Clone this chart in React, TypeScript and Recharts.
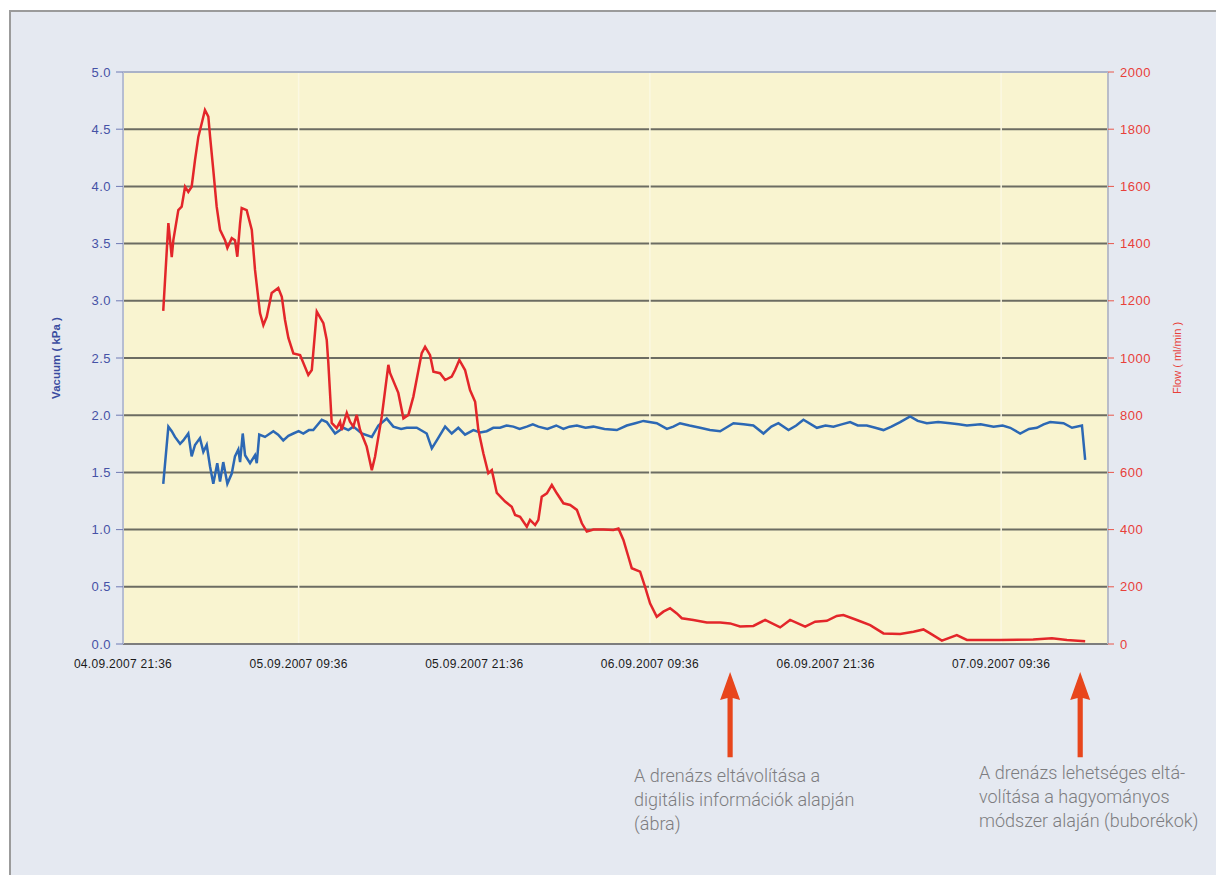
import { CartesianGrid, Line, LineChart, ReferenceLine, XAxis, YAxis } from "recharts";

// hours since 04.09.2007 21:36
const flowHours = [
  2.75, 3.1, 3.33, 3.44, 3.78, 4.01, 4.24, 4.46, 4.69, 4.92, 5.15, 5.38, 5.6, 5.83, 5.95, 6.17, 6.4, 6.63, 6.97, 7.13,
  7.43, 7.65, 7.81, 8.0, 8.11, 8.45, 8.8, 9.02, 9.36, 9.59, 9.82, 10.16, 10.61, 10.85, 11.07, 11.3, 11.64, 12.1, 12.66,
  12.9, 13.24, 13.69, 13.92, 14.03, 14.26, 14.6, 14.83, 14.94, 15.29, 15.51, 15.74, 15.97, 16.2, 16.65, 17.0, 17.22,
  17.68, 18.13, 18.25, 18.81, 19.16, 19.5, 19.84, 20.41, 20.64, 20.98, 21.21, 21.66, 22.01, 22.46, 22.69, 22.98, 23.37,
  23.71, 24.06, 24.28, 24.62, 24.96, 25.2, 25.54, 26.11, 26.56, 26.79, 27.13, 27.59, 27.81, 28.16, 28.38, 28.61, 28.96,
  29.3, 29.64, 30.09, 30.55, 31.01, 31.35, 31.69, 32.14, 32.82, 33.51, 33.85, 34.19, 34.53, 34.76, 35.33, 35.67, 36.01,
  36.47, 36.92, 37.38, 37.84, 38.18, 38.97, 39.89, 40.8, 41.48, 42.16, 43.07, 43.87, 44.9, 45.58, 46.61, 47.29, 48.09,
  48.77, 49.22, 50.14, 51.05, 51.96, 53.1, 54.01, 54.69, 55.15, 55.95, 56.97, 57.66, 59.93, 62.19, 63.47, 64.49, 65.74,
];
const flowValues = [
  1165, 1472, 1353, 1412, 1517, 1529, 1599, 1581, 1599, 1692, 1774, 1821, 1867, 1844, 1774, 1657, 1529, 1448, 1412, 1385,
  1419, 1412, 1354, 1472, 1524, 1517, 1448, 1308, 1157, 1115, 1144, 1227, 1245, 1214, 1133, 1070, 1016, 1010, 941,
  958, 1162, 1122, 1063, 982, 773, 755, 777, 748, 808, 777, 760, 801, 748, 690, 608, 655,
  795, 976, 947, 878, 789, 801, 865, 1017, 1039, 1010, 952, 947, 923, 935, 958, 993, 958,
  888, 847, 748, 667, 597, 608, 528, 498, 480, 451, 445, 410, 434, 416, 434, 515, 527,
  556, 527, 492, 486, 469, 422, 393, 400, 400, 399, 404, 364, 305, 265, 253, 200, 142,
  95, 113, 125, 107, 90, 84, 75, 75, 72, 61, 63, 84, 58, 84, 61, 78, 81,
  98, 101, 84, 66, 37, 35, 43, 51, 37, 12, 31, 14, 14, 16, 20, 14, 10,
];

const vacuumHours = [
  2.75, 3.1, 3.33, 3.55, 3.9, 4.12, 4.46, 4.69, 4.92, 5.26, 5.49, 5.72, 5.95, 6.17, 6.44, 6.63, 6.85, 7.13, 7.43, 7.65,
  7.88, 8.0, 8.18, 8.34, 8.68, 9.02, 9.14, 9.31, 9.7, 10.27, 10.6, 10.95, 11.3, 11.64, 12.0, 12.32, 12.7, 13.0, 13.58,
  13.92, 14.49, 15.06, 15.4, 15.74, 16.31, 17.0, 17.45, 18.02, 18.47, 19.0, 19.39, 20.07, 20.75, 21.1, 21.44, 22.01,
  22.46, 22.91, 23.37, 23.94, 24.4, 24.85, 25.3, 25.76, 26.2, 26.67, 27.1, 27.59, 28.0, 28.38, 29.0, 29.6, 30.09, 30.5,
  31.01, 31.6, 32.14, 32.9, 33.74, 34.42, 35.0, 35.56, 36.47, 37.16, 37.6, 38.06, 38.7, 39.43, 40.1, 40.8, 41.2, 41.71,
  42.4, 43.07, 43.76, 44.3, 44.78, 45.47, 46.0, 46.49, 47.41, 48.0, 48.54, 49.1, 49.68, 50.2, 50.82, 51.4, 51.96, 52.5,
  53.1, 53.78, 54.3, 54.92, 55.7, 56.52, 57.1, 57.66, 58.6, 59.48, 60.1, 60.62, 61.3, 61.9, 62.44, 62.9, 63.35, 64.26,
  64.84, 65.52, 65.74,
];
const vacuumValues = [
  1.4, 1.9, 1.86, 1.81, 1.75, 1.78, 1.84, 1.64, 1.74, 1.8, 1.68, 1.74, 1.55, 1.4, 1.58, 1.42, 1.59, 1.4, 1.49, 1.64,
  1.7, 1.59, 1.84, 1.65, 1.58, 1.65, 1.58, 1.83, 1.81, 1.86, 1.83, 1.78, 1.82, 1.84, 1.86, 1.84, 1.87, 1.87, 1.96,
  1.94, 1.84, 1.89, 1.87, 1.9, 1.84, 1.81, 1.91, 1.97, 1.9, 1.88, 1.89, 1.89, 1.84, 1.71, 1.78, 1.9,
  1.84, 1.89, 1.83, 1.87, 1.85, 1.86, 1.89, 1.89, 1.91, 1.9, 1.88, 1.9, 1.92, 1.9, 1.88, 1.91, 1.88, 1.9,
  1.91, 1.89, 1.9, 1.88, 1.87, 1.91, 1.93, 1.95, 1.93, 1.88, 1.9, 1.93, 1.91, 1.89, 1.87, 1.86, 1.89, 1.93,
  1.92, 1.91, 1.84, 1.9, 1.93, 1.87, 1.91, 1.96, 1.89, 1.91, 1.9, 1.92, 1.94, 1.91, 1.91, 1.89, 1.87, 1.9,
  1.94, 1.99, 1.95, 1.93, 1.94, 1.93, 1.92, 1.91, 1.92, 1.9, 1.91, 1.89, 1.84, 1.88, 1.89, 1.92, 1.94, 1.93,
  1.89, 1.91, 1.61,
];

const xTickHours = [0, 12, 24, 36, 48, 60];
const xTickLabels = [
  "04.09.2007 21:36",
  "05.09.2007 09:36",
  "05.09.2007 21:36",
  "06.09.2007 09:36",
  "06.09.2007 21:36",
  "07.09.2007 09:36",
];
const vacuumTicks = [0, 0.5, 1, 1.5, 2, 2.5, 3, 3.5, 4, 4.5, 5];
const flowTicks = [0, 200, 400, 600, 800, 1000, 1200, 1400, 1600, 1800, 2000];
const faintVerticals = [12, 36, 60];
const arrowHours = [41.48, 65.4];

const notes = [
  ["A drenázs eltávolítása a", "digitális információk alapján", "(ábra)"],
  ["A drenázs lehetséges eltá-", "volítása a hagyományos", "módszer alaján (buborékok)"],
];

const rows = new Map<number, any>();
flowHours.forEach((h, i) => {
  const r = rows.get(h) ?? { h };
  r.flow = flowValues[i];
  rows.set(h, r);
});
vacuumHours.forEach((h, i) => {
  const r = rows.get(h) ?? { h };
  r.vacuum = vacuumValues[i];
  rows.set(h, r);
});
const data = [...rows.values()].sort((a, b) => a.h - b.h);

const Arrow = (props: any) => {
  const { x1, y1, y2 } = props;
  const tip = Math.min(y1, y2);
  const base = Math.max(y1, y2);
  const d = `M${x1},${tip} L${x1 + 10},${tip + 28} L${x1 + 2.6},${tip + 26} L${x1 + 2.6},${base} L${x1 - 2.6},${base} L${x1 - 2.6},${tip + 26} L${x1 - 10},${tip + 28} Z`;
  return <path d={d} fill="#e8461c" />;
};

const App = () => {
  return (
    <div
      style={{
        position: "relative",
        marginLeft: 1,
        marginTop: 2,
        width: 1209,
        height: 880,
        boxSizing: "border-box",
        border: "2px solid #9b9b9b",
        background: "#e5e9f1",
        fontFamily: "'Liberation Sans', Arial, sans-serif",
      }}
    >
      <LineChart
        width={1205}
        height={800}
        data={data}
        margin={{ top: 60, right: 0, left: 0, bottom: 138 }}
      >
        <CartesianGrid
          yAxisId="left"
          vertical={false}
          fill="#f9f4d0"
          stroke="#6c6c62"
          strokeWidth={2}
          strokeOpacity={1}
        />
        {faintVerticals.map((h) => (
          <ReferenceLine key={h} x={h} yAxisId="left" stroke="#fbf8e2" strokeWidth={1.5} />
        ))}
        <ReferenceLine y={5} yAxisId="left" stroke="#aab2c8" strokeWidth={2} />
        <XAxis
          dataKey="h"
          type="number"
          domain={[0, 67.3]}
          ticks={xTickHours}
          allowDataOverflow
          tickFormatter={(v: number) => xTickLabels[xTickHours.indexOf(v)] ?? ""}
          tickLine={false}
          tickSize={0}
          tickMargin={15}
          axisLine={{ stroke: "#7d7d7d", strokeWidth: 2 }}
          tick={{ fill: "#1a1a1a", fontSize: 12, letterSpacing: 0.3 }}
          height={30}
        />
        <YAxis
          yAxisId="left"
          domain={[0, 5]}
          ticks={vacuumTicks}
          tickFormatter={(v: number) => v.toFixed(1)}
          width={112}
          tickSize={7}
          tickMargin={5}
          axisLine={{ stroke: "#b6bdd2", strokeWidth: 2 }}
          tickLine={{ stroke: "#6f7ab4" }}
          tick={{ fill: "#4552a6", fontSize: 13, letterSpacing: 0.5 }}
          label={{
            value: "Vacuum ( kPa )",
            angle: -90,
            position: "center",
            dx: -11,
            style: { fill: "#3a4ca0", fontSize: 11.5, fontWeight: "bold" },
          }}
        />
        <YAxis
          yAxisId="right"
          orientation="right"
          domain={[0, 2000]}
          ticks={flowTicks}
          width={108}
          tickSize={6}
          tickMargin={6}
          axisLine={{ stroke: "#b9bcc8", strokeWidth: 2 }}
          tickLine={{ stroke: "#e8574a" }}
          tick={{ fill: "#e8403a", fontSize: 13, letterSpacing: 0.5 }}
          label={{
            value: "Flow ( ml/min )",
            angle: -90,
            position: "center",
            dx: 15,
            style: { fill: "#e8403a", fontSize: 11 },
          }}
        />
        <Line
          yAxisId="left"
          type="linear"
          dataKey="vacuum"
          stroke="#2c68b4"
          strokeWidth={2.5}
          dot={false}
          connectNulls
          isAnimationActive={false}
        />
        <Line
          yAxisId="right"
          type="linear"
          dataKey="flow"
          stroke="#e3262a"
          strokeWidth={2.5}
          dot={false}
          connectNulls
          isAnimationActive={false}
        />
        {arrowHours.map((h) => (
          <ReferenceLine
            key={h}
            yAxisId="left"
            ifOverflow="visible"
            segment={[
              { x: h, y: -0.245 },
              { x: h, y: -0.99 },
            ]}
            shape={Arrow}
          />
        ))}
      </LineChart>
      {notes.map((lines, i) => (
        <div
          key={i}
          style={{
            position: "absolute",
            left: i === 0 ? 623 : 968,
            top: i === 0 ? 752 : 749,
            fontFamily: "Roboto, 'Liberation Sans', sans-serif",
            fontWeight: 300,
            fontSize: 18,
            lineHeight: "24px",
            color: "#7d7d80",
            whiteSpace: "nowrap",
          }}
        >
          {lines.map((t) => (
            <div key={t}>{t}</div>
          ))}
        </div>
      ))}
    </div>
  );
};

export default App;
